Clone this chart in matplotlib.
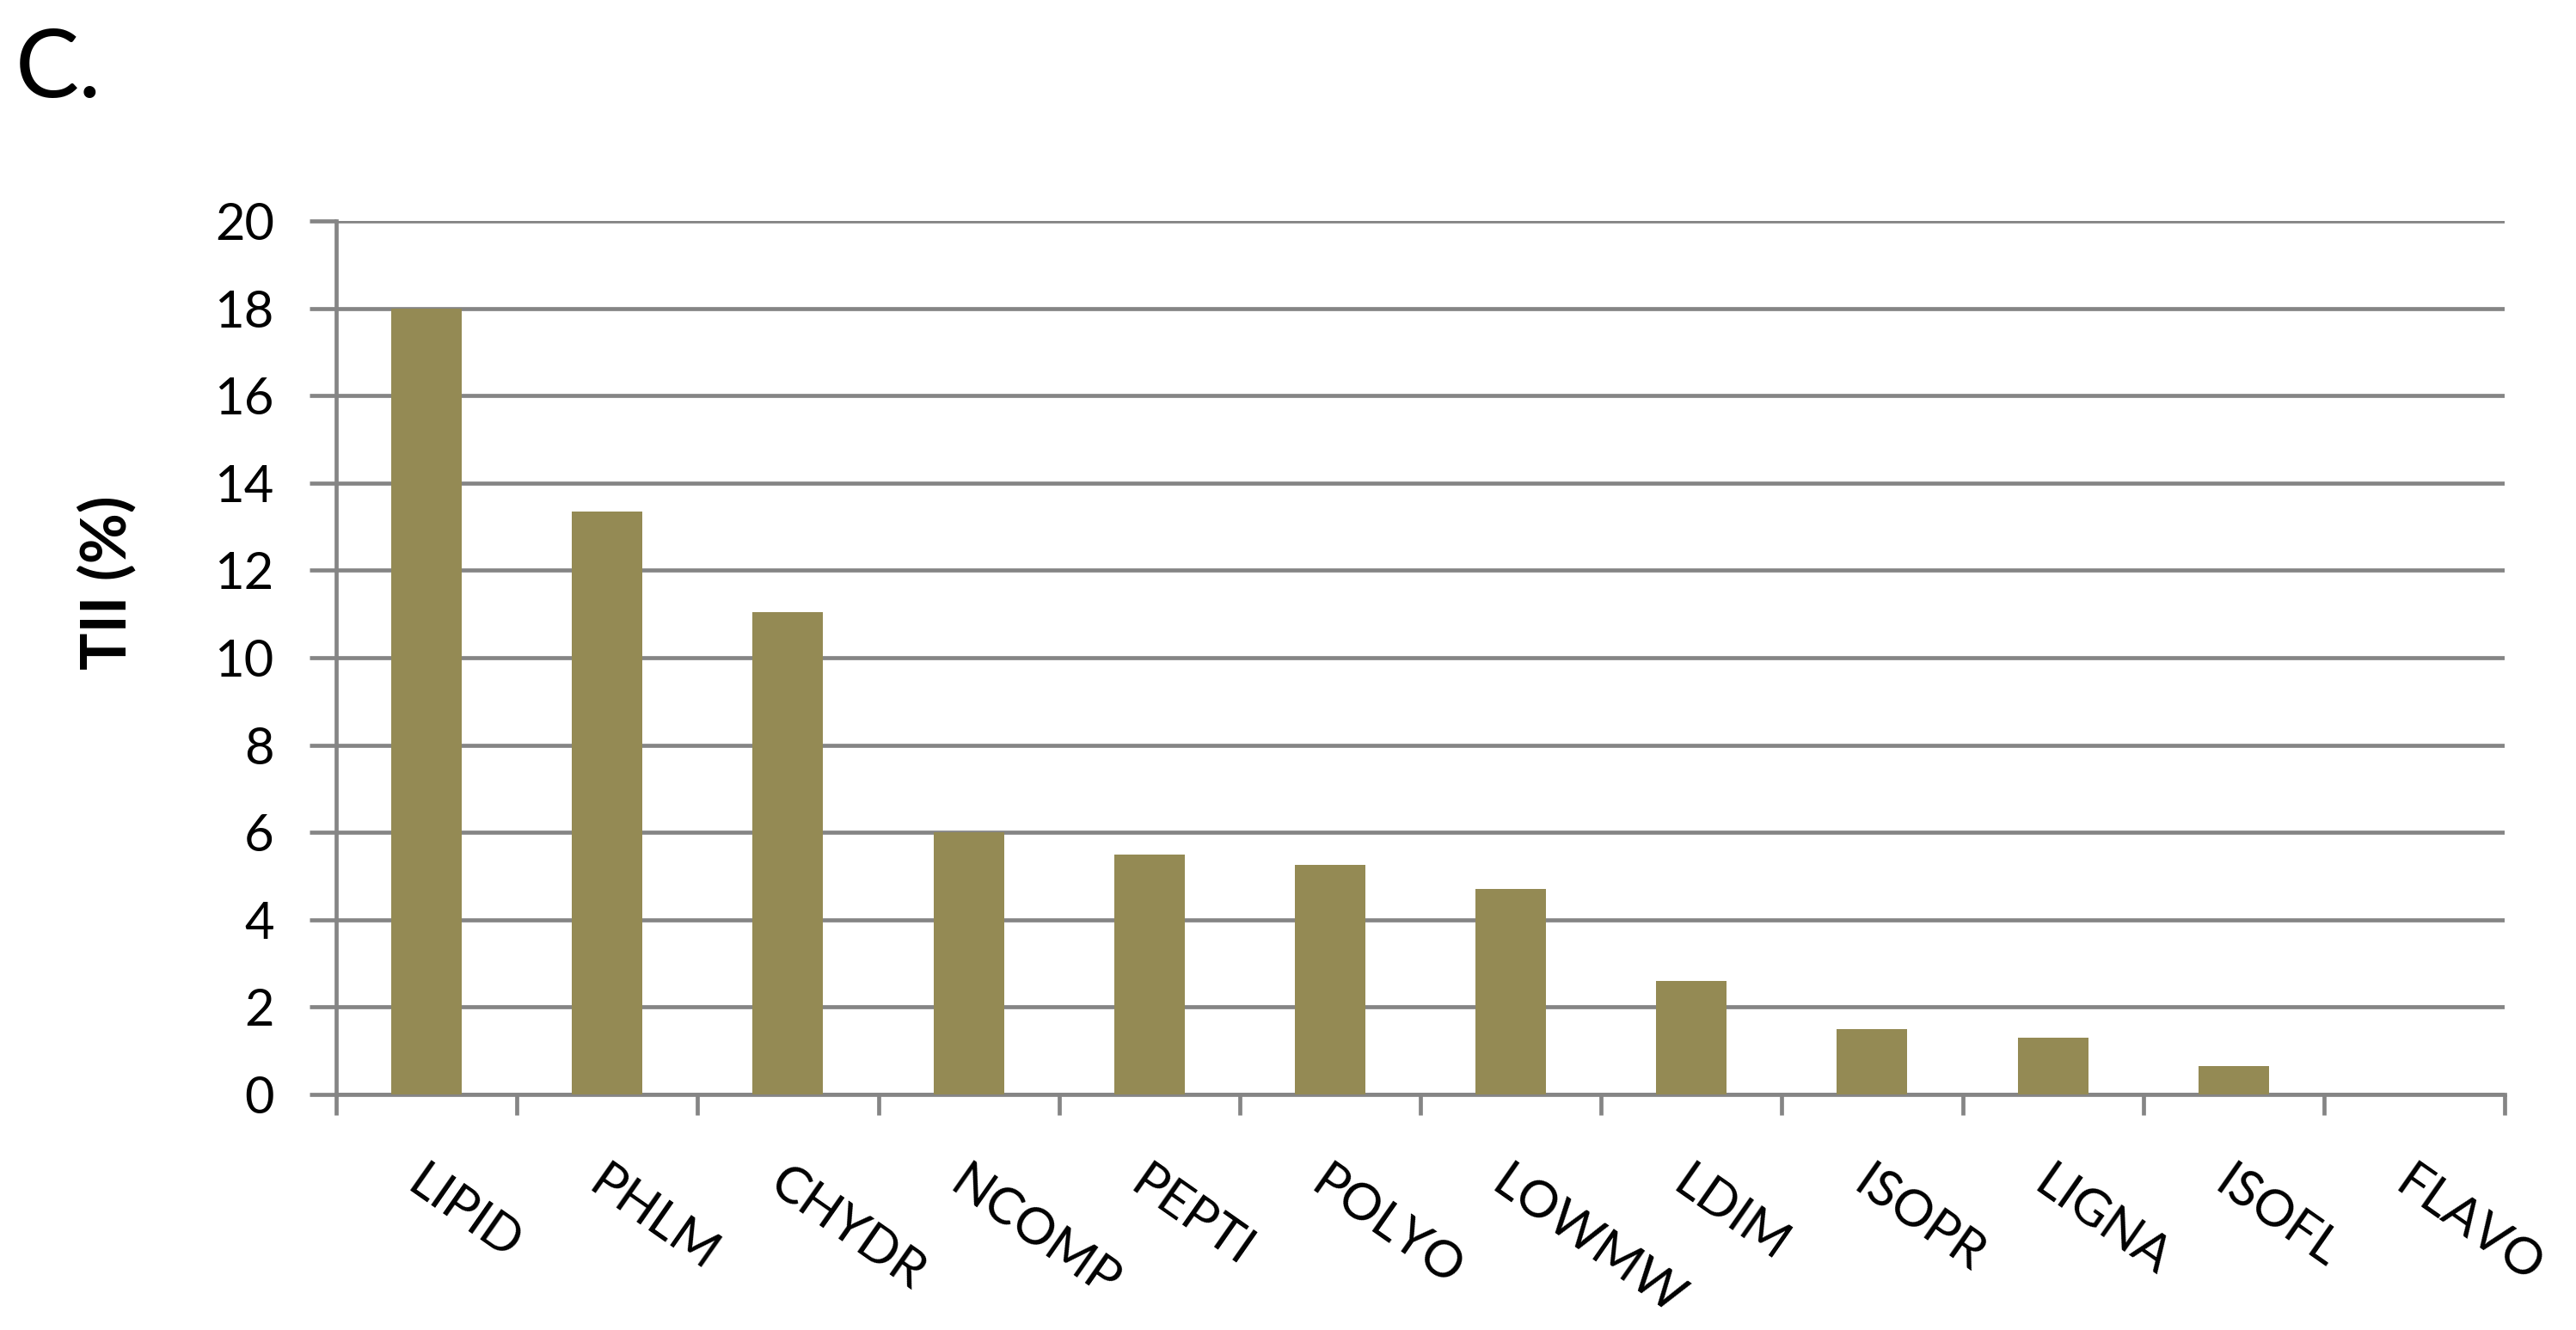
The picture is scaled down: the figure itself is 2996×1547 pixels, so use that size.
import matplotlib.pyplot as plt
import numpy as np

# TII (%) per compound class
categories = ["LIPID", "PHLM", "CHYDR", "NCOMP", "PEPTI", "POLYO",
              "LOWMW", "LDIM", "ISOPR", "LIGNA", "ISOFL", "FLAVO"]
tii_values = [18.0, 13.35, 11.05, 6.0, 5.5, 5.25, 4.7, 2.6, 1.5, 1.3, 0.65, 0.0]
y_ticks = [0, 2, 4, 6, 8, 10, 12, 14, 16, 18, 20]

plt.rcParams['font.family'] = ['Lato', 'DejaVu Sans']

W, H = 2996, 1547
fig = plt.figure(figsize=(W / 100, H / 100), dpi=100)

# axes box in pixels: x 391..2913, y 257..1273
left, right, top, bottom = 391, 2913, 257, 1273
ax = fig.add_axes([left / W, 1 - bottom / H, (right - left) / W, (bottom - top) / H])

grid_col = '#858585'
x = np.arange(len(categories))
ax.bar(x, tii_values, width=0.39, color='#948A54', zorder=3)

ax.set_xlim(-0.5, len(categories) - 0.5)
ax.set_ylim(0, 20)
ax.set_axisbelow(True)

# y axis: ticks reach out past the spine like Excel gridlines
ax.set_yticks(y_ticks)
ax.set_yticklabels([str(v) for v in y_ticks])
ax.yaxis.grid(True, color=grid_col, linewidth=3.4)
ax.tick_params(axis='y', length=22, width=3.4, color=grid_col, pad=30,
               labelsize=43, direction='out')

# x axis: tick marks between categories, labels at the bar centres
ax.set_xticks(np.arange(len(categories) + 1) - 0.5)
ax.set_xticklabels([''] * (len(categories) + 1))
ax.tick_params(axis='x', which='major', length=17, width=3.4, color=grid_col,
               direction='out')
ax.set_xticks(x, minor=True)
ax.set_xticklabels(categories, minor=True, rotation=-35, ha='left', va='top',
                   rotation_mode='anchor')
ax.tick_params(axis='x', which='minor', length=0, pad=54, labelsize=43)

for side in ['top', 'right']:
    ax.spines[side].set_visible(False)
for side in ['left', 'bottom']:
    ax.spines[side].set_color(grid_col)
    ax.spines[side].set_linewidth(3.4)

fig.text(125 / W, 1 - 678 / H, 'TII (%)', rotation=90, fontweight='bold',
         fontsize=52, ha='center', va='center')
fig.text(18 / W, 1 - 113 / H, 'C.', fontsize=80, ha='left', va='baseline')

fig.savefig('out.png', dpi=100, facecolor='white')
